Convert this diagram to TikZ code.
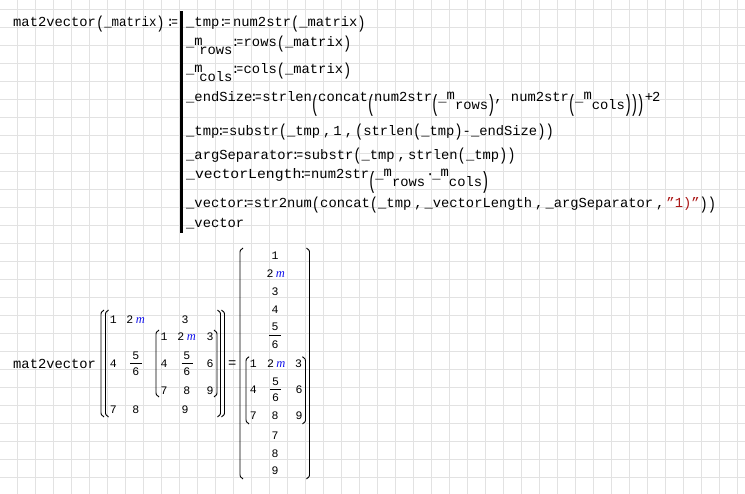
\documentclass[tikz,border=0pt]{standalone}
\usepackage{fontspec}
\usepackage{graphicx}
\usepackage{tikz}
\newfontfamily\codefont{Liberation Mono}
\newfontfamily\unitfont{Liberation Serif}
\definecolor{gridgray}{RGB}{226,226,226}
\definecolor{unitblue}{RGB}{20,20,235}
\definecolor{strred}{RGB}{170,20,20}
\newcommand{\openpar}[3]% x, top, bottom
{(#1+3,#2) .. controls (#1,#2+2) .. (#1,#2+7) -- (#1,#3-7) .. controls (#1,#3-2) .. (#1+3,#3)
}
\newcommand{\closepar}[3]% x, top, bottom
{(#1-3,#2) .. controls (#1,#2+2) .. (#1,#2+7) -- (#1,#3-7) .. controls (#1,#3-2) .. (#1-3,#3)
}
\newcommand{\assign}{\kern-2.5pt:\kern-3.1pt\scalebox{0.8}[1]{=}\kern0.5pt}
\newcommand{\parL}{\raisebox{-1.5pt}{\scalebox{1}[1.25]{(}}}
\newcommand{\parR}{\raisebox{-1.5pt}{\scalebox{1}[1.25]{)}}}
\newcommand{\tparL}{\kern-1pt\raisebox{-9.7pt}{\scalebox{1}[1.7]{(}}\kern-1pt}
\newcommand{\tparR}{\kern-1pt\raisebox{-9.7pt}{\scalebox{1}[1.7]{)}}\kern-1pt}
\newcommand{\mraise}{\raisebox{1.5pt}{m}}
\newcommand{\subidx}[1]{\raisebox{-8pt}{#1}}
\newcommand{\subidxl}[1]{\kern-3.5pt\raisebox{-8pt}{#1}\kern1.5pt}
\newcommand{\argsep}{\kern3pt,\kern2pt}
\newcommand{\unitm}{\kern2.5pt{\color{unitblue}\unitfont\itshape\fontsize{12.5}{14}\selectfont m}}
\tikzset{
	code/.style={anchor=base west, inner sep=0pt, font=\codefont\fontsize{13.8}{16}\selectfont},
	entry/.style={anchor=base, inner sep=0pt, font=\codefont\fontsize{11.5}{13}\selectfont},
	gridline/.style={draw=gridgray, line width=1pt},
	delim/.style={line width=0.9pt}
}

\begin{document}
\begin{tikzpicture}[x=1pt,y=-1pt]
	\fill[white] (0,0) rectangle (745,494);
	\useasboundingbox (0,0) rectangle (745,494);
	\foreach \gx in {17.5,35.5,...,745} \draw[gridline] (\gx,0) -- (\gx,494);
	\foreach \gy in {9.5,27.5,...,494} \draw[gridline] (0,\gy) -- (745,\gy);
	% definition
	\node[code] (fdef) at (13,26.7) {mat2vector\parL\scalebox{0.9}[1]{\_matrix}\parR\kern4pt\assign};
	\draw[line width=2.5pt] (181.7,11.5) -- (181.7,233);
	\node[code] (l1) at (186,26.7) {\_tmp\kern2pt\assign\kern2pt num2str\parL\_matrix\parR};
	\node[code] (l2) at (186,46.7) {\_\mraise\subidxl{rows}\assign rows\parL\_matrix\parR};
	\node[code] (l3) at (186,74) {\_\mraise\subidxl{cols}\assign cols\parL\_matrix\parR};
	\node[code] (l4) at (186,101.5) {\_endSize\assign strlen\tparL concat\tparL num2str\tparL\_\mraise\subidx{rows}\tparR, num2str\tparL\_\mraise\subidx{cols}\tparR\tparR\tparR\kern1pt+\kern-1pt2};
	\node[code] (l5) at (186,135.5) {\_tmp\assign substr\parL\_tmp\argsep 1\argsep\parL strlen\parL\_tmp\parR-\_endSize\parR\parR};
	\node[code] (l6) at (186,159.5) {\_argSeparator\assign substr\parL\_tmp\argsep strlen\parL\_tmp\parR\parR};
	\node[code] (l7) at (186,178.5) {\scalebox{1.07}[1]{\_vectorLength}\assign num2str\tparL\_\mraise\subidx{rows}\kern1pt·\kern-2pt\_\mraise\subidx{cols}\tparR};
	\node[code] (l8) at (186,208) {\_vector\assign str2num\parL concat\parL\_tmp\argsep\_vectorLength\argsep\_argSeparator\argsep{\color{strred}”1)”}\parR\parR};
	\node[code] (l9) at (186,227.5) {\_vector};
	% evaluation
	\node[code] (call) at (13,368.3) {mat2vector};
	\draw[delim] \openpar{101}{310}{417} \openpar{105.5}{310}{417};
	\draw[delim] \closepar{220.5}{310}{417} \closepar{224.5}{310}{417};
	\node[entry] (a11) at (113.3,324) {1};
	\node[entry] (a12) at (135.7,324) {2\unitm};
	\node[entry] (a13) at (185,324) {3};
	\node[entry] (a21) at (113.3,367.7) {4};
	\node[entry] (a22n) at (135.7,359.5) {5};
	\draw[delim] (130,363.3) -- (141.7,363.3);
	\node[entry] (a22d) at (135.7,375.5) {6};
	\draw[delim] \openpar{156}{330}{397} \closepar{217}{330}{397};
	\node[entry] (b11) at (164,341) {1};
	\node[entry] (b12) at (186.7,341) {2\unitm};
	\node[entry] (b13) at (210,341) {3};
	\node[entry] (b21) at (164,367.7) {4};
	\node[entry] (b22n) at (186.7,359.5) {5};
	\draw[delim] (181.7,363.3) -- (192.7,363.3);
	\node[entry] (b22d) at (186.7,375.5) {6};
	\node[entry] (b23) at (210,367.7) {6};
	\node[entry] (b31) at (164,395) {7};
	\node[entry] (b32) at (186.7,395) {8};
	\node[entry] (b33) at (210,395) {9};
	\node[entry] (a31) at (113.3,413.3) {7};
	\node[entry] (a32) at (135.7,413.3) {8};
	\node[entry] (a33) at (185,413.3) {9};
	\node[code] (eq) at (228,367.5) {=};
	% result
	\draw[delim] \openpar{240}{248}{479} \closepar{309.5}{248}{479};
	\node[entry] (v1) at (275,260) {1};
	\node[entry] (v2) at (275.8,277.3) {2\unitm};
	\node[entry] (v3) at (275,295.7) {3};
	\node[entry] (v4) at (275,313.3) {4};
	\node[entry] (v5n) at (275,331) {5};
	\draw[delim] (269,335.2) -- (281,335.2);
	\node[entry] (v5d) at (275,348.5) {6};
	\draw[delim] \openpar{246}{356.7}{424} \closepar{305.5}{356.7}{424};
	\node[entry] (c11) at (253.3,367.7) {1};
	\node[entry] (c12) at (276.3,367.7) {2\unitm};
	\node[entry] (c13) at (298.5,367.7) {3};
	\node[entry] (c21) at (253.3,394) {4};
	\node[entry] (c22n) at (275.5,386) {5};
	\draw[delim] (270,389.7) -- (281,389.7);
	\node[entry] (c22d) at (275.5,402) {6};
	\node[entry] (c23) at (299,394) {6};
	\node[entry] (c31) at (253.3,420) {7};
	\node[entry] (c32) at (275,420) {8};
	\node[entry] (c33) at (299,420) {9};
	\node[entry] (v7) at (275,439.3) {7};
	\node[entry] (v8) at (275,457.3) {8};
	\node[entry] (v9) at (275,475) {9};
\end{tikzpicture}
\end{document}
